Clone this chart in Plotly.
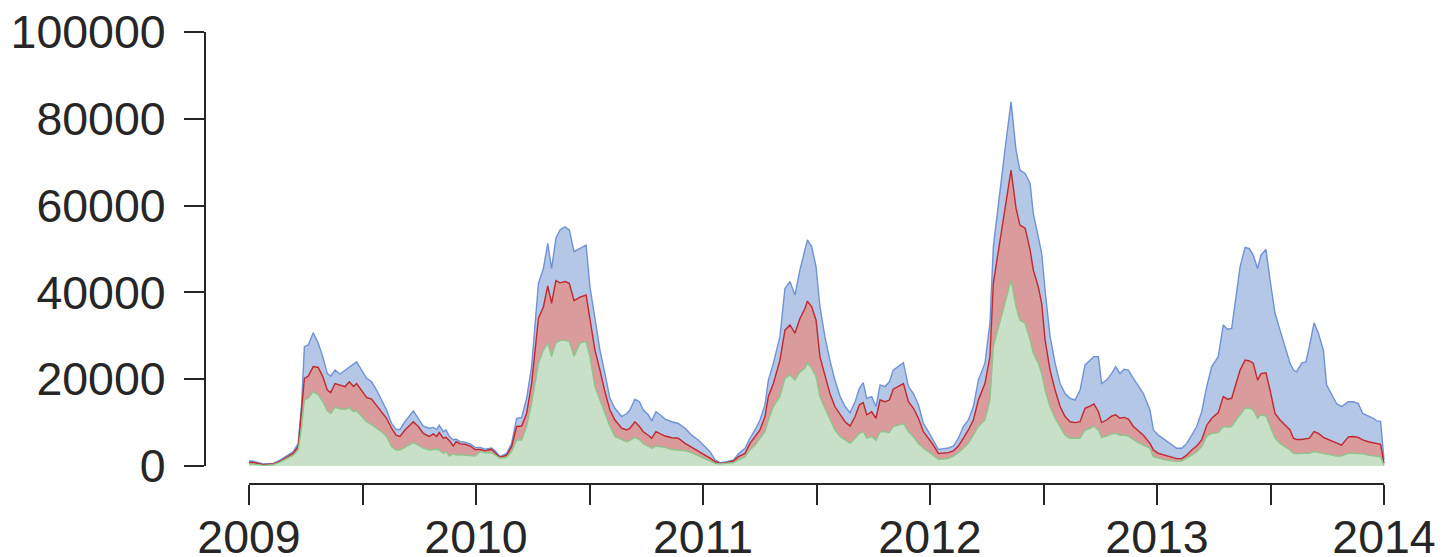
import plotly.graph_objects as go

# decimal-year sample times (shared by all three series)
t = [
    2009.000, 2009.019, 2009.063, 2009.107, 2009.137, 2009.166, 2009.195, 2009.217, 2009.232, 2009.244,
    2009.261, 2009.283, 2009.305, 2009.325, 2009.345, 2009.360, 2009.379, 2009.401, 2009.423, 2009.442,
    2009.460, 2009.474, 2009.496, 2009.518, 2009.540, 2009.562, 2009.584, 2009.606, 2009.628, 2009.648,
    2009.665, 2009.687, 2009.724, 2009.746, 2009.768, 2009.794, 2009.812, 2009.827, 2009.838, 2009.856,
    2009.868, 2009.883, 2009.900, 2009.912, 2009.930, 2009.952, 2009.974, 2009.996,
    2010.018, 2010.040, 2010.054, 2010.069, 2010.084, 2010.106, 2010.135, 2010.157, 2010.179, 2010.201,
    2010.223, 2010.245, 2010.275, 2010.297, 2010.316, 2010.333, 2010.352, 2010.370, 2010.392, 2010.411,
    2010.432, 2010.458, 2010.485, 2010.502, 2010.524, 2010.546, 2010.568, 2010.590, 2010.612, 2010.642,
    2010.664, 2010.678, 2010.700, 2010.720, 2010.737, 2010.759, 2010.774, 2010.793, 2010.811, 2010.833,
    2010.862, 2010.891, 2010.921, 2010.950, 2010.979, 2011.001, 2011.031,
    2011.053, 2011.075, 2011.104, 2011.134, 2011.156, 2011.185, 2011.207, 2011.229, 2011.251, 2011.273,
    2011.288, 2011.310, 2011.339, 2011.361, 2011.383, 2011.405, 2011.427, 2011.449, 2011.460, 2011.479,
    2011.498, 2011.515, 2011.537, 2011.559, 2011.581, 2011.604, 2011.626, 2011.648, 2011.670, 2011.689,
    2011.706, 2011.721, 2011.743, 2011.762, 2011.780, 2011.802, 2011.821, 2011.838, 2011.860, 2011.883,
    2011.905, 2011.927, 2011.949,
    2011.971, 2011.993, 2012.015, 2012.037, 2012.059, 2012.081, 2012.103, 2012.125, 2012.147, 2012.169,
    2012.191, 2012.213, 2012.242, 2012.264, 2012.279, 2012.308, 2012.330, 2012.357, 2012.379, 2012.396,
    2012.419, 2012.441, 2012.455, 2012.477, 2012.492, 2012.507, 2012.529, 2012.551, 2012.573, 2012.595,
    2012.617, 2012.639, 2012.661, 2012.683, 2012.705, 2012.722, 2012.742, 2012.756, 2012.778, 2012.800,
    2012.818, 2012.837, 2012.855, 2012.874, 2012.896, 2012.918, 2012.940, 2012.969,
    2012.984, 2013.006, 2013.035, 2013.065, 2013.087, 2013.109, 2013.131, 2013.153, 2013.175, 2013.197,
    2013.219, 2013.241, 2013.270, 2013.292, 2013.310, 2013.329, 2013.348, 2013.366, 2013.388, 2013.407,
    2013.424, 2013.443, 2013.458, 2013.480, 2013.498, 2013.520, 2013.542, 2013.564, 2013.586, 2013.601,
    2013.615, 2013.637, 2013.656, 2013.671, 2013.692, 2013.711, 2013.733, 2013.747, 2013.769, 2013.791,
    2013.813, 2013.843, 2013.865, 2013.887, 2013.906, 2013.931, 2013.953, 2013.968, 2013.985, 2014.000,
]

blue = [
    1150, 1100, 460, 600, 1380, 2300, 3300, 5200, 14400, 27500,
    27900, 30700, 28300, 25200, 21300, 20700, 22100, 21200, 22100, 22900,
    23500, 24000, 22100, 20200, 19400, 17500, 15200, 12900, 9800, 8400,
    8400, 10200, 12700, 11000, 9200, 8700, 8900, 8400, 9400, 7900,
    8300, 6800, 6000, 6200, 5600, 5500, 5100, 4300,
    4300, 3900, 4000, 4150, 3530, 2150, 2900, 5200, 11000, 11200,
    15600, 22900, 42100, 45500, 51300, 45500, 52500, 54400, 55100, 54400,
    49400, 50100, 50900, 41300, 33600, 26700, 21300, 15600, 13300, 11400,
    12100, 12900, 15400, 14800, 12900, 11800, 10400, 12500, 11800, 10800,
    10200, 9800, 8700, 7100, 6000, 4800, 3300,
    1400, 770, 1000, 1400, 2800, 4100, 6400, 8300, 10600, 14100,
    19800, 23700, 29800, 40900, 42500, 39400, 45200, 49800, 52100, 50500,
    45900, 36700, 29800, 24400, 19800, 16000, 13700, 12300, 14800, 17900,
    19200, 15600, 16000, 13700, 18700, 18300, 19400, 22100, 22900, 23800,
    18300, 16700, 14100,
    9800, 7900, 6000, 3800, 4000, 4150, 4600, 6400, 9100, 10600,
    13700, 19800, 23700, 32900, 50500, 63600, 72800, 83900, 72800, 68200,
    67400, 65100, 58200, 52800, 49000, 40500, 29800, 23700, 19000, 16700,
    15600, 15200, 17500, 23300, 24400, 25200, 25200, 19000, 19800, 21300,
    22900, 21300, 22300, 22100, 20200, 18300, 16700, 12900,
    8300, 7100, 6000, 4800, 4100, 4100, 5200, 7100, 9100, 12500,
    18300, 22900, 25200, 32500, 31500, 31700, 39000, 45900, 50400, 50100,
    48600, 45500, 48600, 49900, 42900, 35200, 31300, 27500, 23700, 22100,
    21700, 23700, 24000, 27500, 33000, 30600, 26700, 18700, 16700, 14400,
    13700, 14800, 14800, 14400, 12100, 11500, 11000, 10400, 10300, 1400,
]

red = [
    850, 800, 300, 450, 1100, 2000, 2900, 4500, 13800, 20200,
    20700, 22900, 22700, 20600, 17500, 16900, 19000, 18700, 18300, 19400,
    18300, 19000, 17500, 15800, 15400, 14000, 12500, 11000, 8700, 7100,
    6800, 8300, 10200, 9100, 7500, 6800, 7400, 6800, 7700, 6400,
    6600, 5800, 4600, 5600, 5100, 5000, 4600, 3800,
    3800, 3500, 3700, 3840, 3070, 2000, 2500, 4450, 9100, 9200,
    12100, 19000, 34000, 36700, 41500, 37500, 42700, 42200, 42500, 42100,
    38100, 38900, 39400, 34000, 26700, 22100, 17100, 12900, 10600, 8700,
    8300, 8700, 10200, 9100, 7900, 7100, 6400, 7900, 7400, 6900,
    6500, 6400, 5200, 4300, 3500, 2900, 1800,
    1000, 600, 770, 1150, 2150, 2900, 5200, 6800, 8300, 11400,
    16000, 19000, 24400, 31300, 32500, 30600, 34000, 36300, 38000, 36700,
    33600, 25200, 20600, 16700, 13700, 11800, 10200, 9200, 11400, 14100,
    14600, 11800, 12500, 11000, 15200, 14800, 15200, 17700, 18300, 19000,
    14800, 13300, 11000,
    7900, 6400, 4800, 2900, 2900, 3070, 3500, 4600, 6400, 8300,
    10600, 15200, 19000, 25200, 42100, 52100, 59700, 68200, 59400, 55500,
    54800, 49800, 45200, 41300, 37500, 29000, 22100, 17500, 13700, 11400,
    10200, 10000, 10200, 13300, 13800, 14300, 12500, 10000, 10600, 11500,
    11800, 11000, 11200, 10800, 9100, 8100, 7100, 5200,
    3700, 2900, 2500, 2150, 1700, 1700, 2500, 3700, 4600, 6000,
    9400, 11000, 12300, 16000, 15400, 15600, 19000, 22100, 24400, 24200,
    23700, 19800, 21300, 21500, 17500, 12100, 10600, 9400, 8300, 6400,
    6100, 6100, 6200, 6400, 7900, 7500, 6600, 6300, 5700, 5200,
    4800, 6700, 6800, 6600, 6000, 5600, 5400, 5100, 5000, 600,
]

green = [
    460, 430, 150, 300, 900, 1800, 2500, 3700, 9200, 15200,
    15600, 17100, 16400, 14800, 12700, 12100, 13500, 13200, 13000, 13500,
    12500, 12700, 11400, 10200, 9500, 8700, 7900, 6800, 4500, 3700,
    3700, 4300, 5400, 4800, 4100, 3700, 3800, 3850, 3700, 2900,
    3300, 2300, 2800, 2500, 2600, 2500, 2500, 2300,
    3300, 3050, 3100, 3070, 2530, 1800, 2000, 3300, 6000, 6000,
    9100, 14400, 23700, 26700, 28300, 25200, 28400, 28900, 29000, 28600,
    25300, 28300, 28600, 25200, 18300, 15200, 12100, 9100, 6800, 6000,
    5600, 5900, 6600, 6100, 5200, 4500, 4100, 4600, 4450, 4300,
    3800, 3700, 3530, 3100, 2300, 1800, 1200,
    600, 460, 550, 770, 1380, 2150, 3700, 4800, 6400, 7900,
    10600, 13700, 16000, 20200, 21000, 19800, 21700, 22500, 23800, 22500,
    20600, 16000, 13300, 10600, 8300, 6800, 6000, 5200, 6400, 7500,
    7900, 6400, 6800, 5900, 7900, 7900, 7700, 9100, 9400, 9800,
    7900, 6800, 5200,
    4100, 3300, 2500, 1540, 1600, 1770, 2300, 3070, 4070, 5200,
    7100, 9100, 10600, 15200, 27500, 32900, 37500, 42900, 36700, 33600,
    32900, 29000, 26000, 23700, 21300, 17500, 13700, 11000, 9100, 7100,
    6400, 6400, 6400, 8300, 8700, 9200, 8300, 6600, 6900, 7400,
    7500, 7100, 7100, 6900, 6100, 5400, 4800, 4100,
    2150, 1800, 1400, 1200, 1000, 1150, 1800, 2500, 3300, 4450,
    6800, 7500, 7700, 9100, 9000, 9100, 10600, 11800, 13300, 13300,
    12900, 11000, 11800, 11500, 9100, 6400, 5200, 4450, 3700, 2900,
    2800, 2900, 2900, 2900, 3300, 3100, 2800, 2600, 2500, 2300,
    2300, 2900, 2900, 2900, 2800, 2500, 2300, 2150, 2100, 230,
]

year_ticks = [2009, 2009.5, 2010, 2010.5, 2011, 2011.5, 2012, 2012.5, 2013, 2013.5, 2014]
year_text = ["2009", "", "2010", "", "2011", "", "2012", "", "2013", "", "2014"]
y_ticks = [0, 20000, 40000, 60000, 80000, 100000]
y_text = ["0", "20000", "40000", "60000", "80000", "100000"]

series = [
    ("blue", blue, "rgba(180,199,231,1)", "#6f92d6"),
    ("red", red, "rgba(217,155,155,1)", "#c0282d"),
    ("green", green, "rgba(200,224,200,1)", "#8cc68c"),
]

fig = go.Figure()
for name, vals, fillc, linec in series:
    fig.add_trace(go.Scatter(
        x=t, y=vals, name=name, mode="lines", fill="tozeroy",
        fillcolor=fillc, line=dict(color=linec, width=1.4),
        showlegend=False, hoverinfo="skip",
    ))

axis_color = "#262626"
font = dict(family="Liberation Sans, Arial, sans-serif", size=46.5, color=axis_color)

# page body has an 8px margin, so figure-space pixels = window pixels - 8
OFF = 8
W, H = 1451, 557
left, right_px, top, bottom_px = 205 - OFF, 1400 - OFF, 32 - OFF, 484 - OFF
x0_px, x1_px = 249 - OFF, 1384 - OFF
ppy = (x1_px - x0_px) / 5.0
xr = [2009 - (x0_px - left) / ppy, 2014 + (right_px - x1_px) / ppy]
zero_px, top_px = 466 - OFF, 32 - OFF
ppu = (zero_px - top_px) / 100000.0
yr = [-(bottom_px - zero_px) / ppu, 100000]

fig.update_layout(
    width=W, height=H,
    margin=dict(l=left, r=W - right_px, t=top, b=H - bottom_px, pad=0, autoexpand=False),
    paper_bgcolor="white", plot_bgcolor="white",
    font=font,
    xaxis=dict(range=xr, showgrid=False, zeroline=False, showline=False, automargin=False,
               tickmode="array", tickvals=year_ticks, ticktext=year_text,
               ticks="outside", ticklen=20, tickwidth=2, tickcolor=axis_color,
               tickfont=font, ticklabelstandoff=-8, ticklabeloverflow="allow"),
    yaxis=dict(range=yr, showgrid=False, zeroline=False, showline=False, automargin=False,
               tickmode="array", tickvals=y_ticks, ticktext=y_text,
               ticks="outside", ticklen=20, tickwidth=2, tickcolor=axis_color,
               tickfont=font, ticklabelstandoff=9, ticklabeloverflow="allow"),
    shapes=[
        dict(type="line", xref="x", yref="paper", x0=2009, x1=2014, y0=0, y1=0,
             line=dict(color=axis_color, width=2)),
        dict(type="line", xref="paper", yref="y", x0=0, x1=0, y0=0, y1=100000,
             line=dict(color=axis_color, width=2)),
    ],
)

fig.write_html("out.html")
